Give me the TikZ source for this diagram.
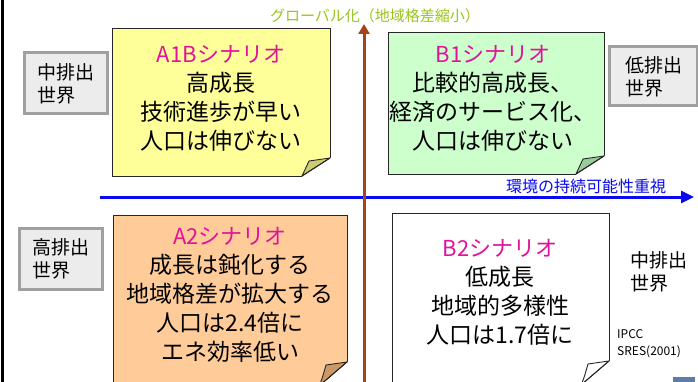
\documentclass[tikz,border=0pt]{standalone}
\usepackage{fontspec}
\newfontfamily\jp{Noto Sans CJK JP}
\usetikzlibrary{arrows.meta,calc}
\definecolor{yellowfill}{HTML}{FFFF99}
\definecolor{yellowfold}{HTML}{CCCC77}
\definecolor{greenfill}{HTML}{CCFFCC}
\definecolor{greenfold}{HTML}{99CC99}
\definecolor{orangefill}{HTML}{FFCC99}
\definecolor{orangefold}{HTML}{CC9966}
\definecolor{titlemag}{HTML}{E0139A}
\definecolor{axisbrown}{HTML}{A5441A}
\definecolor{axisblue}{HTML}{0A0AF0}
\definecolor{labgreen}{HTML}{99C51A}
\definecolor{graybd}{HTML}{A0A0A0}
\definecolor{grayfill}{HTML}{ECECEC}
\definecolor{iconblue}{HTML}{5A7FA8}
\tikzset{
  scenbox/.style={draw=black!85, line width=0.9pt, rectangle, inner sep=0pt, outer sep=0pt},
  scentext/.style={font=\jp\fontsize{23}{29}\selectfont, align=center, inner sep=0pt},
  graybox/.style={draw=graybd, fill=grayfill, line width=3pt, rectangle, inner sep=0pt, outer sep=0pt,
     font=\jp\fontsize{19}{23}\selectfont, align=left},
  plaintext/.style={font=\jp\fontsize{19}{23}\selectfont, align=left, inner sep=0pt},
  smalltext/.style={font=\jp\fontsize{12}{17}\selectfont, align=left, inner sep=0pt},
}
\newcommand{\ttl}[1]{{\color{titlemag}\fontsize{22}{29}\selectfont #1}}
% fold: #1 node name, #2 fold colour, #3 vertical size
\newcommand{\foldcorner}[3]{%
  \fill[white] ($(#1.south east)+(1.2,-#3-0.6)$) -- ($(#1.south east)+(1.2,1.2)$) -- ($(#1.south east)+(-28.8,1.2)$) -- cycle;
  \filldraw[fill=#2, draw=black!85, line width=0.9pt, line join=round]
    ($(#1.south east)+(-28,0)$) .. controls ($(#1.south east)+(-25,-7)$) .. ($(#1.south east)+(-21,-#3+3)$)
    -- ($(#1.south east)+(0,-#3)$) -- cycle;
  \draw[black!85, line width=0.9pt] ($(#1.south east)+(0,-#3)$) -- ($(#1.south east)+(-28,0)$);
}
\begin{document}
\begin{tikzpicture}[x=1pt,y=-1pt]
\clip (0,0) rectangle (698,382);
\useasboundingbox (0,0) rectangle (698,382);
\fill[white] (0,0) rectangle (698,382);
% left border line
\coordinate (lt) at (2.5,0);
\coordinate (lb) at (2.5,382);
\draw[black, line width=3pt] (lt) -- (lb);

% scenario boxes
\node[scenbox, fill=yellowfill, minimum width=218pt, minimum height=148pt] (a1b) at (221,102) {};
\foldcorner{a1b}{yellowfold}{18}
\node[scenbox, fill=greenfill, minimum width=216pt, minimum height=142pt] (b1) at (496,103) {};
\foldcorner{b1}{greenfold}{18}
\node[scenbox, fill=orangefill, minimum width=234pt, minimum height=171pt] (a2) at (230,300.5) {};
\foldcorner{a2}{orangefold}{24}
\node[scenbox, fill=white, minimum width=217pt, minimum height=172pt] (b2) at (500.5,299) {};
\foldcorner{b2}{white}{24}

% axes
\coordinate (hs) at (100,197);
\coordinate (he) at (694,197);
\draw[axisblue, line width=3pt, -{Triangle[length=13pt,width=12pt]}] (hs) -- (he);
\coordinate (vs) at (364,385);
\coordinate (ve) at (364,24);
\draw[axisbrown, line width=3pt, -{Triangle[length=10pt,width=11pt]}] (vs) -- (ve);

% axis labels
\node[font=\jp\fontsize{15}{17}\selectfont, text=labgreen, inner sep=0pt] (vlab) at (375,16) {グローバル化（地域格差縮小）};
\node[font=\jp\fontsize{16}{18}\selectfont, text=axisblue, inner sep=0pt] (hlab) at (586,186) {環境の持続可能性重視};

% scenario texts
\node[scentext] (a1bt) at (221,98.5) {\ttl{A1Bシナリオ}\\高成長\\技術進歩が早い\\人口は伸びない};
\node[scentext] (b1t) at (493,98) {\ttl{B1シナリオ}\\比較的高成長、\\経済のサービス化、\\人口は伸びない};
\node[scentext] (a2t) at (230,294.8) {\ttl{A2シナリオ}\\成長は鈍化する\\地域格差が拡大する\\人口は2.4倍に\\エネ効率低い};
\node[scentext] (b2t) at (500,292) {\ttl{B2シナリオ}\\低成長\\地域的多様性\\人口は1.7倍に};

% emission boxes
\node[graybox, minimum width=83pt, minimum height=61pt] (g1) at (65.5,83.5) {中排出\\世界};
\node[graybox, minimum width=88pt, minimum height=59pt] (g2) at (653.5,76.5) {低排出\\世界};
\node[graybox, minimum width=83pt, minimum height=61pt] (g3) at (60.5,258.5) {高排出\\世界};
\node[plaintext] (g4) at (659,271.5) {中排出\\世界};

% source
\node[smalltext, anchor=west] (src) at (617,343.5) {IPCC\\SRES(2001)};

% small icon at the corner
\fill[iconblue] (673,377) rectangle (695,383);
\end{tikzpicture}
\end{document}
